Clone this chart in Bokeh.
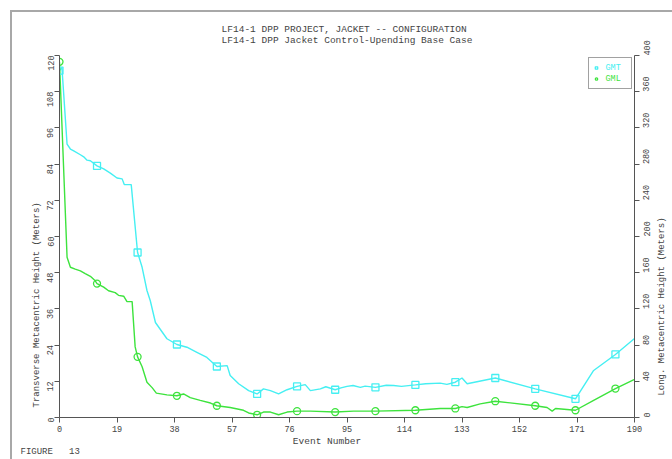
from math import pi
from bokeh.plotting import figure
from bokeh.layouts import row
from bokeh.models import (Range1d, LinearAxis, FixedTicker, Label, Legend, LegendItem,
                          Title)
from bokeh.embed import file_html
from bokeh.resources import INLINE

# ---------------- data ----------------
title_line1 = "LF14-1 DPP PROJECT, JACKET -- CONFIGURATION"
title_line2 = "LF14-1 DPP Jacket Control-Upending Base Case"
x_label = "Event Number"
left_label = "Transverse Metacentric Height (Meters)"
right_label = "Long. Metacentric Height (Meters)"
figure_label = "FIGURE   13"
series_names = ["GMT", "GML"]

x_ticks = [0, 19, 38, 57, 76, 95, 114, 133, 152, 171, 190]
left_ticks = [0, 12, 24, 36, 48, 60, 72, 84, 96, 108, 120]
right_ticks = [0, 40, 80, 120, 160, 200, 240, 280, 320, 360, 400]

# GMT (transverse, left axis, meters)
gmt_event = [0, 0.8, 2.5, 3.6, 4.7, 6.9, 8.0, 9.1, 10.2, 12.4, 14.6, 16.8, 19.0, 20.7,
             21.4, 23.7, 25.8, 27.3, 28.9, 30.0, 31.7, 35.5, 38.8, 42.1, 45.4, 48.7,
             52.0, 55.4, 56.4, 59.2, 62.5, 65.3, 67.4, 69.7, 72.4, 75.2, 78.5, 81.2,
             82.9, 86.2, 88.0, 91.1, 93.0, 95.0, 97.0, 99.4, 101.0, 104.4, 108.0,
             110.4, 113.0, 117.6, 121.0, 125.8, 128.0, 130.8, 133.0, 134.7, 144.0,
             157.2, 170.5, 176.5, 183.7, 190.0]
gmt = [115.0, 116.0, 90.6, 89.0, 88.4, 87.1, 86.4, 85.3, 85.1, 83.4, 82.4, 81.0, 79.4,
       79.1, 77.2, 77.2, 54.7, 49.8, 42.1, 38.7, 31.5, 26.1, 24.2, 23.3, 21.6, 19.9,
       16.9, 17.2, 13.9, 11.2, 8.9, 7.8, 9.5, 8.9, 7.8, 9.2, 10.3, 10.9, 8.9, 9.5,
       10.2, 9.2, 9.8, 10.3, 10.6, 10.0, 10.4, 10.0, 10.7, 10.6, 10.3, 10.8, 11.2,
       11.4, 11.0, 11.7, 13.1, 11.2, 13.1, 9.5, 6.2, 15.6, 20.9, 26.2]

# GML (longitudinal, right axis, meters)
gml_event = [0, 2.5, 3.6, 5.2, 6.9, 8.5, 10.2, 11.8, 12.4, 14.6, 16.2, 18.4, 19.5,
             21.2, 22.3, 24.0, 25.0, 25.8, 27.3, 28.9, 30.6, 32.0, 35.5, 38.8, 41.0,
             43.2, 46.5, 49.9, 52.0, 56.4, 60.8, 62.5, 65.3, 67.4, 69.7, 72.4, 75.2,
             78.5, 82.9, 91.1, 97.2, 104.4, 117.6, 125.8, 130.8, 133.0, 134.7, 139.0,
             144.0, 157.2, 161.1, 162.8, 163.9, 170.5, 176.5, 183.7, 190.0]
gml = [393, 177, 166, 164, 162, 159, 156, 151, 148, 144, 140, 138, 135, 134, 128, 128,
       78, 67, 56, 39, 33, 27, 25, 24, 26, 22, 19, 16, 13, 11, 8, 5, 3, 6, 6, 3, 6, 7,
       7, 6, 7, 7, 8, 10, 10, 12, 11, 15, 18, 13, 11, 7, 10, 8, 19, 32, 42]

marker_event = [0, 12.4, 25.8, 38.8, 52.0, 65.3, 78.5, 91.1, 104.4, 117.6, 130.8,
                144.0, 157.2, 170.5, 183.7]
gmt_marker = [115.0, 83.4, 54.7, 24.2, 16.9, 7.8, 10.3, 9.2, 10.0, 10.8, 11.7, 13.1,
              9.5, 6.2, 20.9]
gml_marker = [393, 148, 67, 24, 13, 3, 7, 6, 7, 8, 10, 18, 13, 8, 32]

# ---------------- styles ----------------
CYAN = "#45EFF2"
GREEN = "#3DE33D"
FONT = "Liberation Mono"
TXT = "#444444"
AXC = "#555555"
NB = "\u00a0"

p = figure(width=644, height=447, output_backend="svg", toolbar_location=None,
           x_range=Range1d(0, 190), y_range=Range1d(0, 120),
           min_border_left=47, min_border_right=22, min_border_top=43,
           min_border_bottom=42)
p.extra_y_ranges = {"long": Range1d(0, 400)}
p.xgrid.visible = False
p.ygrid.visible = False
p.outline_line_color = None

right_axis = LinearAxis(y_range_name="long")
p.add_layout(right_axis, "right")

p.xaxis.ticker = FixedTicker(ticks=x_ticks)
p.yaxis[0].ticker = FixedTicker(ticks=left_ticks)
right_axis.ticker = FixedTicker(ticks=right_ticks)

for ax in [p.xaxis[0], p.yaxis[0], right_axis]:
    ax.major_label_text_font = FONT
    ax.major_label_text_font_size = "8.5px"
    ax.major_label_text_color = TXT
    ax.axis_line_color = AXC
    ax.major_tick_line_color = AXC
    ax.major_tick_out = 5
    ax.major_tick_in = 0
    ax.minor_tick_out = 0
    ax.minor_tick_in = 0
    ax.major_label_standoff = 4
    ax.axis_label_text_font = FONT
    ax.axis_label_text_font_size = "9.5px"
    ax.axis_label_text_font_style = "normal"
    ax.axis_label_text_color = TXT
p.yaxis[0].major_label_orientation = pi / 2
right_axis.major_label_orientation = pi / 2
right_axis.major_label_standoff = 7
p.xaxis[0].major_label_standoff = 3

# x-axis label, padded on the right so that it sits left of centre as in the original
p.xaxis[0].axis_label = x_label + NB * 7
p.xaxis[0].axis_label_standoff = 1

# two-line title
p.title.text = title_line1 + "\n" + title_line2
p.title.align = "center"
p.title.text_font = FONT
p.title.text_font_size = "9.5px"
p.title.text_font_style = "normal"
p.title.text_color = TXT
p.title.text_line_height = 1.0
p.title.standoff = 19

p.add_layout(Title(text=left_label, align="left", offset=10, text_font=FONT,
                   text_font_size="9px", text_font_style="normal",
                   text_color=TXT, standoff=0), "left")
p.add_layout(Title(text=figure_label.replace(" ", NB), align="left", offset=-39,
                   text_font=FONT, text_font_size="9px", text_font_style="normal",
                   text_color=TXT, standoff=-10), "below")

# lines and markers
p.line(gmt_event, gmt, line_color=CYAN, line_width=1.4)
p.line(gml_event, gml, line_color=GREEN, line_width=1.4, y_range_name="long")
r_gmt = p.scatter(marker_event, gmt_marker, marker="square", size=7, fill_color=None,
                  line_color=CYAN, line_width=1.3)
r_gml = p.scatter(marker_event, gml_marker, marker="circle", size=7, fill_color=None,
                  line_color=GREEN, line_width=1.3, y_range_name="long")

legend = Legend(items=[LegendItem(label=" ", renderers=[r_gmt]),
                       LegendItem(label=" ", renderers=[r_gml])],
                location="top_right", padding=4, spacing=0, glyph_width=6,
                glyph_height=11, label_standoff=2, label_width=26, label_height=11,
                margin=2, border_line_color="#444444", border_line_width=1,
                label_text_font_size="8px", background_fill_alpha=0)
p.add_layout(legend, "center")

for name, col, yy in [(series_names[0], CYAN, 350), (series_names[1], GREEN, 339)]:
    p.add_layout(Label(x=546, y=yy, x_units="screen", y_units="screen", text=name,
                       text_font=FONT, text_font_size="8.5px", text_color=col,
                       text_align="left", text_baseline="middle"))

# narrow strip on the right that carries the right-hand axis title (reads upward)
p2 = figure(width=16, height=447, output_backend="svg", toolbar_location=None,
            x_range=Range1d(0, 1), y_range=Range1d(0, 1), x_axis_type=None,
            y_axis_type=None, min_border=0, min_border_left=0, min_border_right=0,
            min_border_top=0, min_border_bottom=0)
p2.outline_line_color = None
p2.grid.visible = False
p2.add_layout(Label(x=5, y=111, x_units="screen", y_units="screen", text=right_label,
                    text_font=FONT, text_font_size="9px", text_color=TXT,
                    text_align="center", text_baseline="middle", angle=pi / 2))

layout = row(p, p2, spacing=0)
layout.styles = {"margin-left": "10px", "margin-top": "10px",
                 "border-left": "2px solid #a8a8a8", "border-top": "2px solid #a8a8a8"}

open("out.html", "w").write(file_html(layout, INLINE))
